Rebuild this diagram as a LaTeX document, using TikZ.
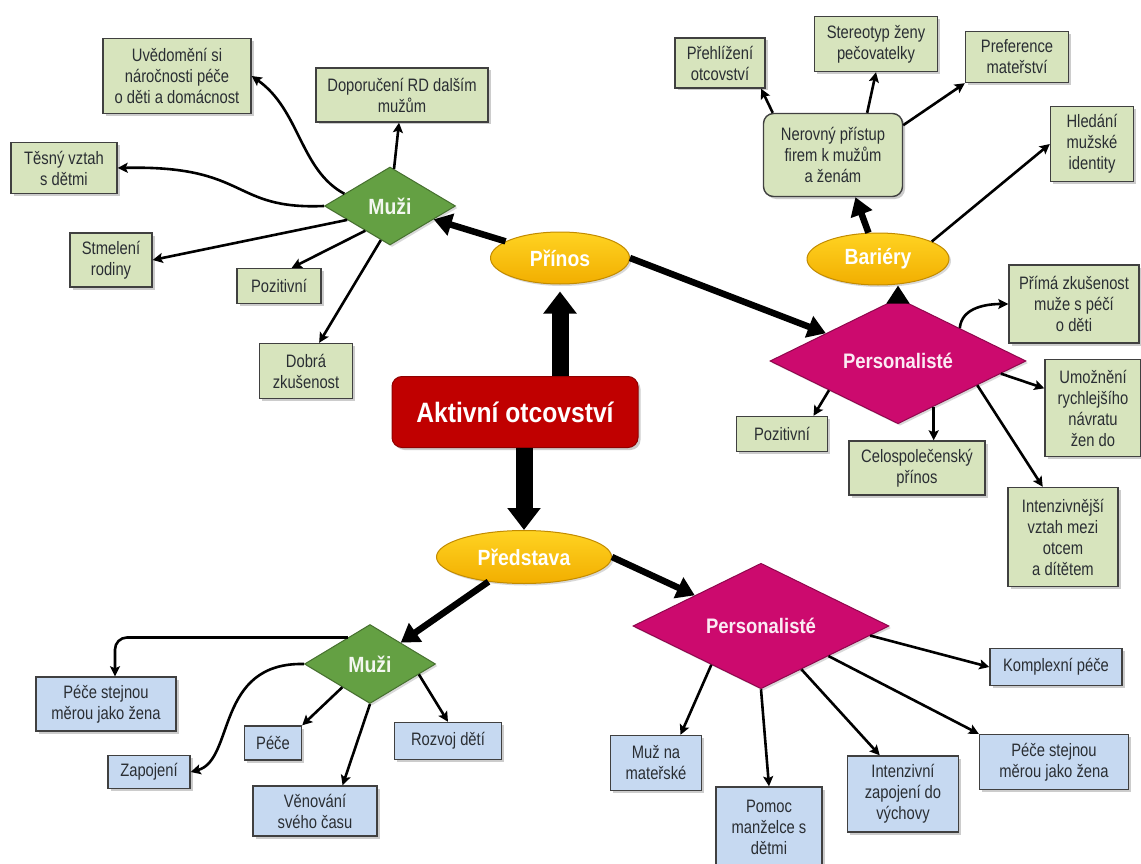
\documentclass[tikz,border=0pt]{standalone}
\usepackage{fontspec}
\setmainfont{Liberation Sans}
\newfontfamily\boxfont{Liberation Sans}[FakeStretch=0.82]
\newfontfamily\headfont{Liberation Sans}[FakeStretch=0.88]
\usetikzlibrary{arrows.meta,shapes.geometric,shadows}
\definecolor{leaf}{HTML}{D7E4BD}
\definecolor{sky}{HTML}{C6D9F1}
\definecolor{moss}{HTML}{64A043}
\definecolor{berry}{HTML}{CC0A6E}
\definecolor{sunny}{HTML}{FFD322}
\definecolor{amber}{HTML}{F2AE00}
\definecolor{crimson}{HTML}{C00000}
\definecolor{ink}{HTML}{2A2E33}

\begin{document}
\begin{tikzpicture}[
    x=1pt, y=-1pt,
    gbox/.style={draw=black!75, line width=1.4pt, fill=leaf, align=center, inner sep=2pt,
        font=\boxfont\fontsize{18}{21}\selectfont, text=ink,
        drop shadow={shadow xshift=2.5pt, shadow yshift=-2.5pt, opacity=0.4}},
    bbox/.style={gbox, fill=sky},
    hub/.style={diamond, inner sep=0pt, line width=1pt,
        font=\headfont\bfseries\fontsize{22}{24}\selectfont,
        drop shadow={shadow xshift=2pt, shadow yshift=-2pt, opacity=0.3}},
    muzi/.style={hub, fill=moss, draw=moss!70!black, text=moss!8!white,
        minimum width=131pt, minimum height=78pt},
    pers/.style={hub, fill=berry, draw=berry!70!black, text=berry!8!white,
        minimum width=256pt, minimum height=83pt,
        font=\headfont\bfseries\fontsize{21}{23}\selectfont},
    oval/.style={ellipse, inner sep=0pt, draw=amber!80!black, line width=1pt,
        top color=sunny, bottom color=amber, text=white,
        font=\headfont\bfseries\fontsize{22}{24}\selectfont,
        drop shadow={shadow xshift=2pt, shadow yshift=-2pt, opacity=0.3}},
    core/.style={rounded corners=10pt, fill=crimson, draw=crimson!75!black, line width=1pt,
        text=white, font=\headfont\bfseries\fontsize{28}{30}\selectfont,
        drop shadow={shadow xshift=2.5pt, shadow yshift=-2.5pt, opacity=0.4}},
    link/.style={-{Stealth[length=10pt, width=10pt, inset=2pt]}, line width=2.6pt},
    heavy/.style={-{Triangle[length=18pt, width=22pt]}, line width=6.5pt},
    trunk/.style={-{Triangle[length=22pt, width=32pt]}, line width=17pt}
]
\path[use as bounding box, fill=white] (0,0) rectangle (1141,864);

\node[core, minimum width=246pt, minimum height=71pt] (aktivni) at (515,412) {Aktivní otcovství};
\node[oval, minimum width=139pt, minimum height=52pt] (prinos) at (560,258) {Přínos};
\node[oval, minimum width=175pt, minimum height=53pt] (predstava) at (524,557) {Představa};
\node[oval, minimum width=142pt, minimum height=52pt] (bariery) at (878,259) {Bariéry};

\node[muzi] (muziA) at (390,206) {Muži};
\node[gbox, minimum width=148pt, minimum height=75pt] (uvedomeni) at (177,76) {Uvědomění si\\náročnosti péče\\o děti a domácnost};
\node[gbox, minimum width=172pt, minimum height=54pt] (doporuceni) at (402,95) {Doporučení RD dalším\\mužům};
\node[gbox, minimum width=106pt, minimum height=51pt] (tesny) at (64,168) {Těsný vztah\\s dětmi};
\node[gbox, minimum width=82pt, minimum height=54pt] (stmeleni) at (111,260) {Stmelení\\rodiny};
\node[gbox, minimum width=84pt, minimum height=35pt] (pozitivniA) at (279,286) {Pozitivní};
\node[gbox, minimum width=93pt, minimum height=55pt] (dobra) at (306,371) {Dobrá\\zkušenost};

\node[gbox, minimum width=139pt, minimum height=83pt, rounded corners=10pt] (nerovny) at (833,155) {Nerovný přístup\\firem k mužům\\a ženám};
\node[gbox, minimum width=90pt, minimum height=50pt] (prehlizeni) at (720,63) {Přehlížení\\otcovství};
\node[gbox, minimum width=123pt, minimum height=55pt] (stereotyp) at (876,44) {Stereotyp ženy\\pečovatelky};
\node[gbox, minimum width=103pt, minimum height=51pt] (preference) at (1017,57) {Preference\\mateřství};
\node[gbox, minimum width=83pt, minimum height=75pt] (hledani) at (1092,144) {Hledání\\mužské\\identity};

\node[pers] (personalA) at (898,361) {Personalisté};
\node[gbox, minimum width=130pt, minimum height=78pt] (primaA) at (1074,304) {Přímá zkušenost\\muže s péčí\\o děti};
\node[gbox, minimum width=96pt, minimum height=97pt] (umozneni) at (1093,408) {Umožnění\\rychlejšího\\návratu\\žen do};
\node[gbox, minimum width=91pt, minimum height=35pt] (pozitivniB) at (782,434) {Pozitivní};
\node[gbox, minimum width=136pt, minimum height=54pt] (celospol) at (917,468) {Celospolečenský\\přínos};
\node[gbox, minimum width=110pt, minimum height=99pt] (intenzivnejsi) at (1063,537) {Intenzivnější\\vztah mezi\\otcem\\a dítětem};

\node[muzi, minimum height=79pt] (muziB) at (370,664) {Muži};
\node[bbox, minimum width=140pt, minimum height=54pt] (peceA) at (106,704) {Péče stejnou\\měrou jako žena};
\node[bbox, minimum width=82pt, minimum height=33pt] (zapojeni) at (149,772) {Zapojení};
\node[bbox, minimum width=57pt, minimum height=34pt] (pece) at (273,743) {Péče};
\node[bbox, minimum width=107pt, minimum height=37pt] (rozvoj) at (448,741) {Rozvoj dětí};
\node[bbox, minimum width=124pt, minimum height=50pt] (venovani) at (315,811) {Věnování\\svého času};

\node[pers] (personalB) at (761,626) {Personalisté};
\node[bbox, minimum width=132pt, minimum height=37pt] (komplexni) at (1056,667) {Komplexní péče};
\node[bbox, minimum width=91pt, minimum height=55pt] (muzna) at (656,763) {Muž na\\mateřské};
\node[bbox, minimum width=106pt, minimum height=80pt] (pomoc) at (769,827) {Pomoc\\manželce s\\dětmi};
\node[bbox, minimum width=111pt, minimum height=76pt] (intenzivni) at (903,794) {Intenzivní\\zapojení do\\výchovy};
\node[bbox, minimum width=149pt, minimum height=55pt] (peceB) at (1054,762) {Péče stejnou\\měrou jako žena};

\draw[trunk, shorten >=7pt] (aktivni.north -| prinos.south) -- (prinos.south);
\draw[trunk] (aktivni.south -| predstava.north) -- (predstava.north);
\draw[heavy] (prinos) -- (muziA);
\draw[heavy] (prinos.east) -- (personalA);
\draw[heavy] (predstava) -- (muziB);
\draw[heavy] (predstava.east) -- (personalB);
\draw[heavy] (personalA.north) -- (personalA.north |- bariery.south);
\draw[heavy] (bariery.110) -- (nerovny.-62);

\draw[link] (muziA.165) .. controls (300,170) and (300,110) .. (uvedomeni.east);
\draw[link] (muziA) -- (doporuceni);
\draw[link] (muziA.west) .. controls (230,210) and (250,165) .. (tesny.east);
\draw[link] (muziA.198) -- (stmeleni.east);
\draw[link] (muziA.225) -- (pozitivniA.55);
\draw[link] (muziA.255) -- (dobra.65);

\draw[link] (nerovny.145) -- (prehlizeni.-32);
\draw[link] (nerovny.51) -- (stereotyp.south);
\draw[link] (nerovny.23) -- (preference.south west);
\draw[link] (bariery.18) -- (hledani.west);

\draw[link] (personalA.28) to[out=85, in=180] (primaA.west);
\draw[link] (personalA.-7) -- (umozneni.158);
\draw[link] (personalA.-17) -- (intenzivnejsi.112);
\draw[link] (personalA.-52) -- (personalA.-52 |- celospol.north);
\draw[link] (personalA.203) -- (pozitivniB.30);

\draw[link, rounded corners=12pt] (muziB.130) -| ([xshift=9pt]peceA.north);
\draw[link] (muziB.west) .. controls (215,662) and (235,760) .. (zapojeni.east);
\draw[link] (muziB.220) -- (pece.north east);
\draw[link] (muziB.south) -- (venovani.43);
\draw[link] (muziB.-12) -- (rozvoj.north);

\draw[link] (personalB.218) -- (muzna.49);
\draw[link] (personalB.south) -- (pomoc.north);
\draw[link] (personalB.-47) -- (intenzivni.121);
\draw[link] (personalB.-24) -- (peceB.north west);
\draw[link] (personalB.-5) -- (komplexni.west);
\end{tikzpicture}
\end{document}
